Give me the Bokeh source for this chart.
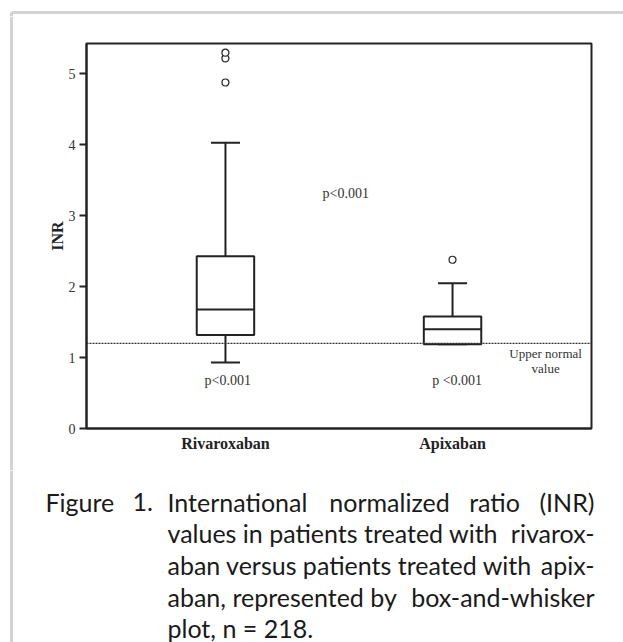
from bokeh.plotting import figure
from bokeh.layouts import column, row
from bokeh.models import Range1d, Span, Label, FixedTicker, ColumnDataSource, Div, Plot
from bokeh.embed import file_html
from bokeh.resources import INLINE

# ---------------- data ----------------
categories = ["Rivaroxaban", "Apixaban"]
whisker_low = [0.93, 1.19]
q1 = [1.32, 1.19]
median = [1.68, 1.40]
q3 = [2.43, 1.58]
whisker_high = [4.03, 2.05]
outlier_group = ["Rivaroxaban", "Rivaroxaban", "Rivaroxaban", "Apixaban"]
outlier_values = [4.88, 5.22, 5.30, 2.38]
upper_normal = 1.2
y_ticks = [0, 1, 2, 3, 4, 5]
caption_lines = [
    ["Figure", "1.", "International", "normalized", "ratio", "(INR)"],
    ["values in patients treated with", "rivarox-"],
    ["aban versus patients treated with", "apix-"],
    ["aban, represented by", "box-and-whisker"],
    ["plot, n = 218."],
]

SERIF = "Liberation Serif"
SANS = "Lato"
INK = "#222222"
FRAME_GREY = "#d3d3d3"

W = 623
HAS_FRAME_ALIGN = "frame_align" in Plot.properties()


def blank(width, height):
    f = figure(width=width, height=height, output_backend="svg", toolbar_location=None,
               x_range=Range1d(0, width), y_range=Range1d(0, height),
               x_axis_type=None, y_axis_type=None, min_border=0)
    f.outline_line_color = None
    f.background_fill_color = "white"
    f.border_fill_color = "white"
    if HAS_FRAME_ALIGN:
        f.frame_align = False
    return f


# ---------- top strip: grey page border ----------
top = blank(W, 16)
top.segment(x0=[11, 11], y0=[0, 4], x1=[11, W], y1=[4, 4], line_color=FRAME_GREY, line_width=3)

# ---------- left strip ----------
CH = 454
if HAS_FRAME_ALIGN:
    left = blank(16, CH)
    left.segment(x0=[11], y0=[0], x1=[11], y1=[CH], line_color=FRAME_GREY, line_width=3)
else:
    left = Div(width=16, height=CH, margin=0, styles={
        "background": "linear-gradient(to right, #fff 0px, #fff 10px, #d3d3d3 10px, "
                      "#d3d3d3 13px, #fff 13px)"})

# ---------- chart ----------
xs = list(range(len(categories)))
box_w = 0.253
cap_w = 0.128

p = figure(width=W - 16, height=CH, output_backend="svg", toolbar_location=None,
           x_range=Range1d(-0.612, 1.612), y_range=Range1d(0, 5.43),
           min_border_left=70, min_border_right=32, min_border_top=27, min_border_bottom=42)
p.background_fill_color = "white"
p.border_fill_color = "white"
p.outline_line_color = INK
p.outline_line_width = 2
p.xgrid.visible = False
p.ygrid.visible = False
if HAS_FRAME_ALIGN:
    p.frame_align = False

src = ColumnDataSource(dict(
    x=xs, lo=whisker_low, q1=q1, med=median, q3=q3, hi=whisker_high,
    xl=[x - box_w / 2 for x in xs], xr=[x + box_w / 2 for x in xs],
    cl=[x - cap_w / 2 for x in xs], cr=[x + cap_w / 2 for x in xs],
))

p.add_layout(Span(location=upper_normal, dimension="width", line_color="#333333",
                  line_width=1.2, line_dash="2 1"))

p.segment(x0="x", y0="q3", x1="x", y1="hi", source=src, line_color=INK, line_width=2)
p.segment(x0="x", y0="q1", x1="x", y1="lo", source=src, line_color=INK, line_width=2)
p.segment(x0="cl", y0="hi", x1="cr", y1="hi", source=src, line_color=INK, line_width=2)
p.segment(x0="cl", y0="lo", x1="cr", y1="lo", source=src, line_color=INK, line_width=2)
p.vbar(x="x", width=box_w, bottom="q1", top="q3", source=src,
       fill_color="white", line_color=INK, line_width=2)
p.segment(x0="xl", y0="med", x1="xr", y1="med", source=src, line_color=INK, line_width=2)
p.scatter(x=[categories.index(g) for g in outlier_group], y=outlier_values, marker="circle",
          size=7, fill_color="white", line_color=INK, line_width=1.2)


def dtext(x, y, t, size="14px"):
    p.add_layout(Label(x=x, y=y, text=t, text_font=SERIF, text_font_size=size,
                       text_color="#333333", text_align="center", text_baseline="middle"))


dtext(0.53, 3.31, "p<0.001")
dtext(0.01, 0.67, "p<0.001")
dtext(1.02, 0.67, "p <0.001")
dtext(1.41, 1.06, "Upper normal", "13px")
dtext(1.41, 0.84, "value", "13px")

p.xaxis.ticker = FixedTicker(ticks=xs)
p.xaxis.major_label_overrides = {i: c for i, c in enumerate(categories)}
p.xaxis.major_tick_line_color = None
p.xaxis.minor_tick_line_color = None
p.xaxis.major_label_standoff = 0
p.xaxis.major_label_text_font = SERIF
p.xaxis.major_label_text_font_size = "16px"
p.xaxis.major_label_text_font_style = "bold"
p.xaxis.major_label_text_color = INK
p.xaxis.axis_line_width = 2
p.xaxis.axis_line_color = INK

p.yaxis.ticker = FixedTicker(ticks=y_ticks)
p.yaxis.major_tick_in = 0
p.yaxis.major_tick_out = 7
p.yaxis.major_tick_line_width = 2
p.yaxis.major_tick_line_color = INK
p.yaxis.minor_tick_line_color = None
p.yaxis.major_label_standoff = 4
p.yaxis.major_label_text_font = SERIF
p.yaxis.major_label_text_font_size = "14px"
p.yaxis.major_label_text_color = "#333333"
p.yaxis.axis_line_width = 2
p.yaxis.axis_line_color = INK
p.yaxis.axis_label = "INR"
p.yaxis.axis_label_text_font = SERIF
p.yaxis.axis_label_text_font_size = "16px"
p.yaxis.axis_label_text_font_style = "bold"
p.yaxis.axis_label_text_color = INK
p.yaxis.axis_label_standoff = 0

# ---------- caption ----------
CAP_H = 642 - 16 - CH
cap = blank(W, CAP_H)
cap.segment(x0=[11], y0=[0], x1=[11], y1=[CAP_H], line_color=FRAME_GREY, line_width=3)

line_y = [CAP_H - d for d in (31, 62, 94, 126, 157)]
col_left = 167
col_right = 594


def ctext(x, y, t, align):
    cap.add_layout(Label(x=x, y=y, text=t, text_font=SANS, text_font_size="25px",
                         text_color="#1a1a1a", text_align=align, text_baseline="middle"))


l0 = caption_lines[0]
ctext(45, line_y[0], l0[0], "left")
ctext(132, line_y[0], l0[1], "left")
ctext(col_left, line_y[0], l0[2], "left")
ctext(389, line_y[0], l0[3], "center")
ctext(494, line_y[0], l0[4], "center")
ctext(col_right, line_y[0], l0[5], "right")
for i in (1, 2, 3):
    ctext(col_left, line_y[i], caption_lines[i][0], "left")
    ctext(col_right, line_y[i], caption_lines[i][1], "right")
ctext(col_left, line_y[4], caption_lines[4][0], "left")

layout = column(top, row(left, p), cap)
open("out.html", "w").write(file_html(layout, INLINE))
